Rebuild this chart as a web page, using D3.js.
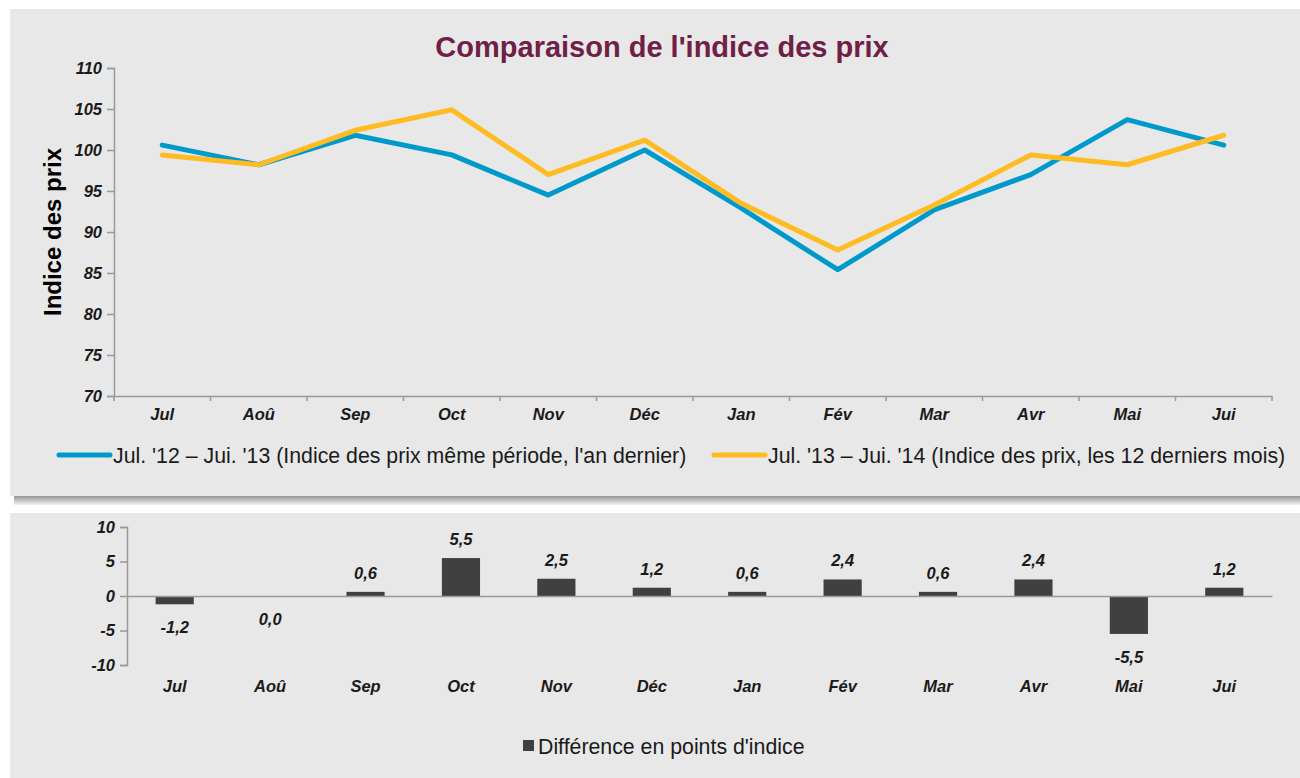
<!DOCTYPE html>
<html><head><meta charset="utf-8">
<script src="https://cdn.jsdelivr.net/npm/d3@7"></script>
<style>html,body{margin:0;padding:0;background:#fff;}svg{display:block;font-family:"Liberation Sans",Arial,sans-serif;}</style>
</head><body>
<svg id="c" width="1300" height="778"></svg>
<script>
const months = ["Jul","Aoû","Sep","Oct","Nov","Déc","Jan","Fév","Mar","Avr","Mai","Jui"];
const prevYear = [100.6, 98.2, 101.8, 99.4, 94.5, 100.0, 92.9, 85.4, 92.7, 97.0, 103.7, 100.6];
const lastYear = [99.4, 98.2, 102.4, 104.9, 97.0, 101.2, 93.5, 87.8, 93.3, 99.4, 98.2, 101.8];
const diff = [-1.2, 0.0, 0.6, 5.5, 2.5, 1.2, 0.6, 2.4, 0.6, 2.4, -5.5, 1.2];
const topTicks = [70, 75, 80, 85, 90, 95, 100, 105, 110];
const bottomTicks = [-10, -5, 0, 5, 10];
const title = "Comparaison de l'indice des prix";
const yLabel = "Indice des prix";
const legend1 = "Jul. '12 – Jui. '13 (Indice des prix même période, l'an dernier)";
const legend2 = "Jul. '13 – Jui. '14 (Indice des prix, les 12 derniers mois)";
const legend3 = "Différence en points d'indice";

const BLUE = "#0099cc", ORANGE = "#ffbb22", BAR = "#404040", AXIS = "#999", TXT = "#1a1a1a";
const TICKFS = 16.5, LEGFS = 21.3;
const loc = d3.formatLocale({decimal: ",", thousands: " ", grouping: [3], currency: ["", "€"]});
const f1 = loc.format(".1f");

const svg = d3.select("#c");
const defs = svg.append("defs");
const g = defs.append("linearGradient").attr("id","sh").attr("x1",0).attr("y1",0).attr("x2",0).attr("y2",1);
g.append("stop").attr("offset","0%").attr("stop-color","#8c8c8c");
g.append("stop").attr("offset","60%").attr("stop-color","#c8c8c8");
g.append("stop").attr("offset","100%").attr("stop-color","#f4f4f4");

// panels
svg.append("rect").attr("x",14).attr("y",495).attr("width",1286).attr("height",10).attr("fill","url(#sh)");
svg.append("rect").attr("x",10).attr("y",9).attr("width",1290).attr("height",487).attr("fill","#e8e8e8");
svg.append("rect").attr("x",10).attr("y",513).attr("width",1290).attr("height",265).attr("fill","#e8e8e8");

// ---------- top chart ----------
const x = d3.scaleBand().domain(months).range([114, 1272]).padding(0);
const y = d3.scaleLinear().domain([70, 110]).range([396, 68]);

svg.append("text").attr("x",662).attr("y",57).attr("text-anchor","middle")
  .attr("font-size",29).attr("font-weight","bold").attr("fill","#702045").text(title);

svg.append("text").attr("transform","translate(61,232) rotate(-90)").attr("text-anchor","middle")
  .attr("font-size",24).attr("font-weight","bold").attr("fill","#000").text(yLabel);

function styleTicks(sel){
  sel.attr("font-size",TICKFS).attr("font-weight","bold").attr("font-style","italic")
    .attr("fill",TXT).attr("font-family","Liberation Sans, Arial, sans-serif");
}

const yAx = svg.append("g").attr("transform","translate(114,0)")
  .call(d3.axisLeft(y).tickValues(topTicks).tickSize(7).tickPadding(5));
yAx.select(".domain").attr("stroke",AXIS).attr("stroke-width",1.5);
yAx.selectAll(".tick line").attr("stroke",AXIS).attr("stroke-width",1.5);
styleTicks(yAx.selectAll(".tick text"));

const xAx = svg.append("g").attr("transform","translate(0,396)")
  .call(d3.axisBottom(x).tickSize(0).tickPadding(12));
xAx.select(".domain").attr("stroke",AXIS).attr("stroke-width",1.5);
styleTicks(xAx.selectAll(".tick text"));
const bounds = months.map(m => x(m)).concat([x(months[months.length-1]) + x.bandwidth()]);
svg.append("g").selectAll("line").data(bounds).join("line")
  .attr("x1",d=>d).attr("x2",d=>d).attr("y1",396).attr("y2",401)
  .attr("stroke",AXIS).attr("stroke-width",1.5);

const line = d3.line().x((d,i)=>x(months[i]) + x.bandwidth()/2).y(d=>y(d));
svg.append("path").datum(prevYear).attr("d",line).attr("fill","none").attr("stroke",BLUE)
  .attr("stroke-width",5).attr("stroke-linecap","round").attr("stroke-linejoin","round");
svg.append("path").datum(lastYear).attr("d",line).attr("fill","none").attr("stroke",ORANGE)
  .attr("stroke-width",5).attr("stroke-linecap","round").attr("stroke-linejoin","round");

// legend top
const lg = svg.append("g");
lg.append("line").attr("x1",59).attr("x2",110).attr("y1",455).attr("y2",455).attr("stroke",BLUE)
  .attr("stroke-width",5).attr("stroke-linecap","round");
lg.append("text").attr("x",113).attr("y",463).attr("font-size",LEGFS).attr("fill",TXT).text(legend1);
lg.append("line").attr("x1",714).attr("x2",765).attr("y1",455).attr("y2",455).attr("stroke",ORANGE)
  .attr("stroke-width",5).attr("stroke-linecap","round");
lg.append("text").attr("x",768).attr("y",463).attr("font-size",LEGFS).attr("fill",TXT).text(legend2);

// ---------- bottom chart ----------
const x2 = d3.scaleBand().domain(months).range([127, 1272]).padding(0);
const y2 = d3.scaleLinear().domain([-10, 10]).range([665, 527]);

const yAx2 = svg.append("g").attr("transform","translate(127,0)")
  .call(d3.axisLeft(y2).tickValues(bottomTicks).tickSize(7).tickPadding(5).tickFormat(d3.format("d")));
yAx2.select(".domain").attr("stroke",AXIS).attr("stroke-width",1.5);
yAx2.selectAll(".tick line").attr("stroke",AXIS).attr("stroke-width",1.5);
styleTicks(yAx2.selectAll(".tick text"));
yAx2.selectAll(".tick text").text(d => d < 0 ? "-" + Math.abs(d) : d);

const bw = x2.bandwidth()*0.4;
svg.append("g").selectAll("rect").data(diff).join("rect")
  .attr("x",(d,i)=>x2(months[i]) + (x2.bandwidth()-bw)/2)
  .attr("width",bw)
  .attr("y",d=>y2(Math.max(0,d)))
  .attr("height",d=>Math.abs(y2(d)-y2(0)))
  .attr("fill",BAR);

const zero = svg.append("g").attr("transform",`translate(0,${y2(0)})`)
  .call(d3.axisBottom(x2).tickSize(0).tickFormat(""));
zero.select(".domain").attr("stroke",AXIS).attr("stroke-width",1.5);

styleTicks(svg.append("g").selectAll("text").data(diff).join("text")
  .attr("x",(d,i)=>x2(months[i]) + x2.bandwidth()/2)
  .attr("y",d=> d > 0 ? y2(d) - 13 : y2(Math.min(0,d)) + 29)
  .attr("text-anchor","middle")
  .text(d => d < 0 ? "-" + f1(Math.abs(d)) : f1(d)));

styleTicks(svg.append("g").selectAll("text").data(months).join("text")
  .attr("x",d=>x2(d) + x2.bandwidth()/2).attr("y",692)
  .attr("text-anchor","middle").text(d=>d));

svg.append("rect").attr("x",523).attr("y",740).attr("width",11).attr("height",11).attr("fill",BAR);
svg.append("text").attr("x",538).attr("y",754).attr("font-size",LEGFS).attr("fill",TXT).text(legend3);
</script>
</body></html>
